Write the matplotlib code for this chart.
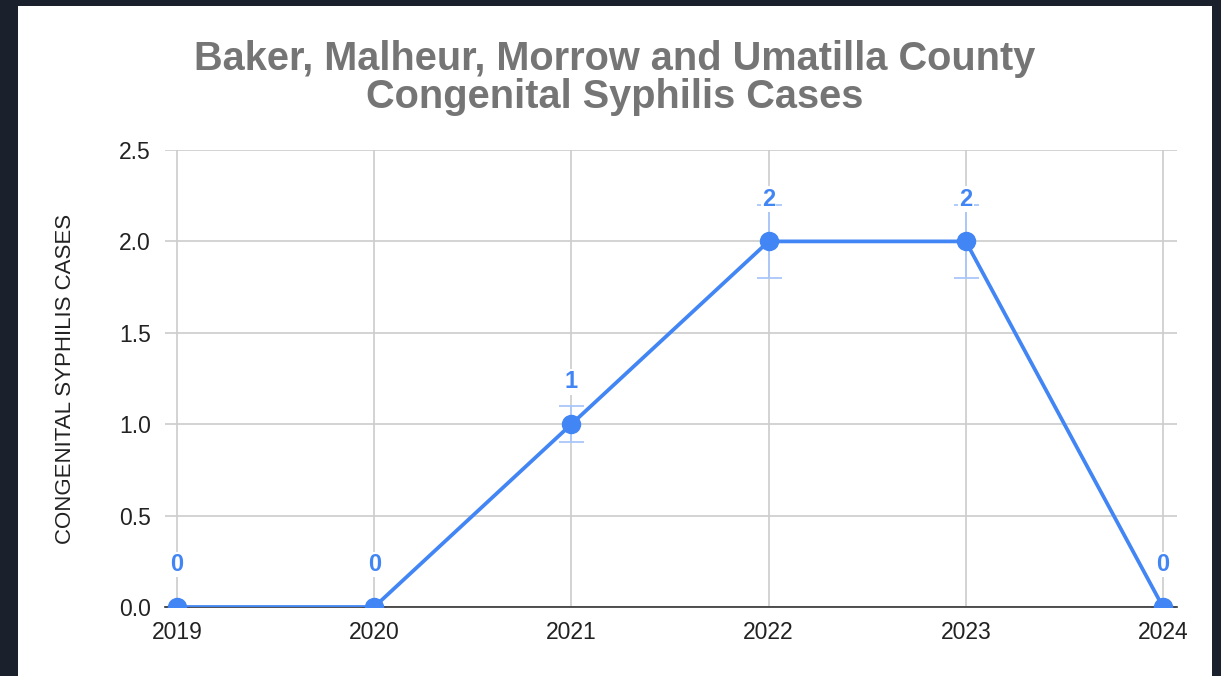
import matplotlib
matplotlib.use("Agg")
import matplotlib.pyplot as plt
from matplotlib.patches import Rectangle

plt.rcParams['font.family'] = ['Liberation Sans', 'DejaVu Sans']

years = [2019, 2020, 2021, 2022, 2023, 2024]
cases = [0, 0, 1, 2, 2, 0]
err = [0, 0, 0.1, 0.2, 0.2, 0]  # +/- 10% error bars

blue = '#4285f4'
err_blue = '#a9c6fa'

fig = plt.figure(figsize=(12.21, 6.76), dpi=100)
fig.patch.set_facecolor('#1b202d')
fig.patches.append(Rectangle((18 / 1221, 0), (1212 - 18) / 1221, 670 / 676,
                             transform=fig.transFigure, facecolor='white',
                             edgecolor='none', zorder=-10))

ax = fig.add_axes([165 / 1221, 1 - 607 / 676, (1177 - 165) / 1221, (607 - 150) / 676])
ax.set_facecolor('white')

ax.errorbar(years, cases, yerr=err, fmt='none', ecolor=err_blue, elinewidth=1.3,
            capsize=9, capthick=1.3, zorder=2)
ax.plot(years, cases, color=blue, lw=2.7, marker='o', ms=13, zorder=3)

for x, y in zip(years, cases):
    ax.annotate(str(y), (x, y), xytext=(0, 30.5), textcoords='offset points',
                ha='center', va='center', fontsize=17, fontweight='bold', color=blue,
                bbox=dict(boxstyle='square,pad=0.05', fc='white', ec='none'), zorder=4)

ax.set_xlim(2019 - 12 / 197.2, 2024 + 14 / 197.2)
ax.set_ylim(0, 2.5)
ax.set_yticks([0, 0.5, 1.0, 1.5, 2.0, 2.5])
ax.set_yticklabels(['0.0', '0.5', '1.0', '1.5', '2.0', '2.5'])
ax.set_xticks(years)
ax.set_xticklabels([str(y) for y in years])
ax.grid(True, color='#cccccc', lw=1.2, zorder=0)
ax.set_axisbelow(True)
for s in ['top', 'right', 'left']:
    ax.spines[s].set_visible(False)
ax.spines['bottom'].set_color('#333333')
ax.spines['bottom'].set_linewidth(1.2)
ax.tick_params(axis='both', length=0, labelsize=16.5, colors='#222222')
ax.tick_params(axis='y', pad=10)
ax.tick_params(axis='x', pad=10)

ax.set_ylabel('CONGENITAL SYPHILIS CASES', fontsize=16, color='#222222', labelpad=31)

fig.text(615 / 1221, 1 - 78 / 676,
         'Baker, Malheur, Morrow and Umatilla County\nCongenital Syphilis Cases',
         ha='center', va='center', fontsize=28.6, fontweight='bold', color='#757575',
         linespacing=1.0)

fig.savefig('out.png', dpi=100, facecolor=fig.get_facecolor())
